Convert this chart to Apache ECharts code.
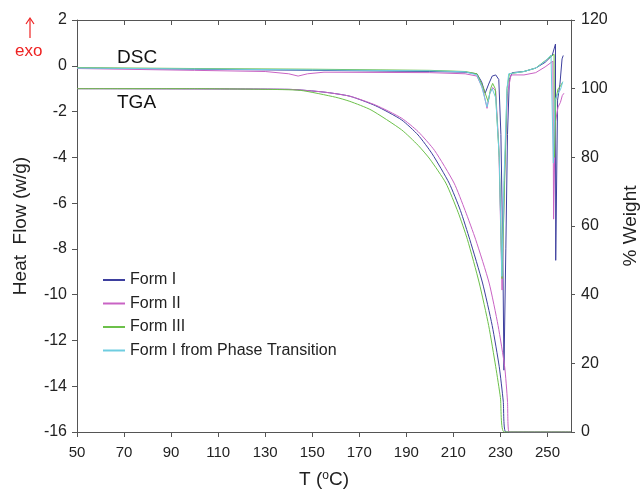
<!DOCTYPE html>
<html>
<head>
<meta charset="utf-8">
<script src="https://cdn.jsdelivr.net/npm/echarts@6/dist/echarts.min.js"></script>
<style>
    html, body { margin: 0; padding: 0; background: #fff; }
    #chart1 { width: 641px; height: 496px; }
</style>
</head>
<body>
<div id="chart1"></div>
<script>
// 图例名称
var formNames = ['Form I', 'Form II', 'Form III', 'Form I from Phase Transition'];
var formColors = ['#3d3f9e', '#c963c4', '#6cc04a', '#6fcde0'];

// DSC 曲线 [T, 热流 W/g]
var dscForm1 = [[50, -0.1], [100, -0.15], [150, -0.2], [200, -0.25], [215, -0.28], [220, -0.35], [222, -0.7],
    [223.5, -1.2], [225, -0.8], [226.5, -0.45], [228, -0.4], [229.3, -0.6], [230.2, -3], [231, -8], [231.5, -13.3],
    [232.3, -8], [233, -3], [233.8, -0.6], [235, -0.3], [240, -0.25], [245, -0.1], [249, 0.15], [252, 0.45],
    [253.4, 0.95], [253.5, -8.5], [254.3, -1.5], [255.3, -0.8], [256.2, 0.3], [256.7, 0.45]];
var dscForm2 = [[50, -0.12], [100, -0.2], [130, -0.25], [140, -0.35], [144, -0.45], [148, -0.35], [155, -0.28],
    [200, -0.3], [215, -0.35], [220, -0.45], [222.5, -1.0], [224.3, -1.86], [225.5, -1.2], [226.7, -0.95],
    [228, -1.1], [229.3, -3.5], [230.7, -9.8], [231.7, -5], [233, -1.2], [234.5, -0.4], [240, -0.4], [245, -0.3],
    [249, -0.05], [252.3, 0.2], [252.6, -6.7], [253.3, -2.5], [254.5, -1.8], [255.5, -1.6], [256.3, -1.3], [257, -1.2]];
var dscForm3 = [[50, -0.08], [100, -0.12], [150, -0.15], [200, -0.2], [215, -0.25], [220, -0.35], [222.5, -0.9],
    [224.8, -1.57], [225.8, -1.0], [226.7, -0.77], [227.8, -1.0], [229.5, -4], [230.7, -9.3], [231.8, -5],
    [232.8, -1], [233.8, -0.35], [240, -0.25], [245, -0.1], [250, 0.3], [252.8, 0.5], [253, -4.0], [253.5, -1.5],
    [254.5, -1.0], [255.5, -0.9], [256.5, -0.7]];
var dscForm4 = [[50, -0.1], [100, -0.14], [150, -0.18], [200, -0.22], [215, -0.26], [220, -0.4], [222, -0.9],
    [224.3, -1.8], [225.5, -1.2], [226.5, -1.0], [228, -1.4], [229.5, -4], [230.6, -9.2], [231.5, -5],
    [232.8, -1], [233.5, -0.35], [240, -0.25], [245, -0.1], [249, 0.2], [251.5, 0.47], [252.3, 0.4],
    [252.5, -4.25], [253.2, -1.5], [254.5, -1.2], [255.5, -1.05], [256.5, -0.7]];

// TGA 曲线 [T, 重量 %]
var tgaForm1 = [[50, 100], [140, 99.8], [155, 99], [166, 97.8], [177, 95], [188, 90.9], [195, 86.5], [201, 81],
    [208.2, 72.5], [213, 64.5], [217, 56], [222.4, 43.4], [226.5, 31], [229.5, 19], [231.2, 9], [232.3, 0], [260, 0]];
var tgaForm2 = [[50, 100], [140, 99.8], [155, 99], [166, 97.8], [177, 95.2], [188, 91.4], [195, 87.5], [202, 82],
    [210.3, 72.5], [215, 64.5], [219.5, 56], [225.2, 43.4], [229, 31], [231.8, 19], [233, 9], [233.7, 0], [260, 0]];
var tgaForm3 = [[50, 100], [100, 100], [130, 99.8], [145, 99.5], [160, 97.5], [166, 96.3], [175, 93.8], [188, 88],
    [195, 83.5], [200, 79.5], [206.8, 72.5], [212, 64], [216, 56], [221, 43.4], [225, 31], [228, 19], [230, 10],
    [231.6, 0], [260, 0]];

var dscList = [dscForm1, dscForm2, dscForm3, dscForm4];
var tgaList = [tgaForm1, tgaForm2, tgaForm3];

(function () {
    var myChart1 = echarts.init(document.getElementById('chart1'));
    var series = [];
    for (var i = 0; i < dscList.length; i++) {
        series.push({
            name: formNames[i], type: 'line', xAxisIndex: 0, yAxisIndex: 0,
            data: dscList[i], symbol: 'none', color: formColors[i],
            lineStyle: { width: 1, color: formColors[i] }
        });
    }
    for (var j = 0; j < tgaList.length; j++) {
        series.push({
            name: formNames[j], type: 'line', xAxisIndex: 0, yAxisIndex: 1,
            data: tgaList[j], symbol: 'none', color: formColors[j],
            smooth: 0.2,
            lineStyle: { width: 1, color: formColors[j] }
        });
    }
    var option = {
        animation: false,
        grid: { left: 77, right: 70, top: 20, bottom: 64, outerBoundsMode: 'none' },
        legend: {
            data: formNames, orient: 'vertical', left: 98, top: 267,
            icon: 'rect', itemWidth: 22, itemHeight: 2, itemGap: 7.5,
            textStyle: { fontFamily: 'Liberation Sans', fontSize: 16, color: '#222' }
        },
        xAxis: [
            {
                type: 'value', min: 50, max: 260, interval: 20,
                name: 'T ({sup|o}C)', nameLocation: 'middle', nameGap: 38,
                nameTextStyle: { fontFamily: 'Liberation Sans', fontSize: 19, color: '#222',
                    rich: { sup: { fontFamily: 'Liberation Sans', fontSize: 12, color: '#222', verticalAlign: 'top', padding: [0, 0, 8, 0] } } },
                axisLine: { onZero: false, lineStyle: { color: '#555' } },
                axisTick: { length: 5, lineStyle: { color: '#555' } },
                axisLabel: { fontFamily: 'Liberation Sans', fontSize: 15, color: '#222', margin: 13 },
                splitLine: { show: false }
            },
            {
                type: 'value', min: 50, max: 260, interval: 20, position: 'top',
                axisLine: { show: true, onZero: false, lineStyle: { color: '#555' } },
                axisTick: { show: true, inside: true, length: 5, lineStyle: { color: '#555' } },
                axisLabel: { show: false },
                splitLine: { show: false }
            }
        ],
        yAxis: [
            {
                type: 'value', min: -16, max: 2, interval: 2,
                name: 'Heat  Flow (w/g)', nameLocation: 'middle', nameGap: 47,
                nameTextStyle: { fontFamily: 'Liberation Sans', fontSize: 19, color: '#222' },
                axisLine: { show: true, onZero: false, lineStyle: { color: '#555' } },
                axisTick: { show: true, length: 5, lineStyle: { color: '#555' } },
                axisLabel: { fontFamily: 'Liberation Sans', fontSize: 16, color: '#222', margin: 10 },
                splitLine: { show: false }
            },
            {
                type: 'value', min: 0, max: 120, interval: 20, position: 'right',
                name: '% Weight', nameLocation: 'middle', nameGap: 50,
                nameTextStyle: { fontFamily: 'Liberation Sans', fontSize: 19, color: '#222' },
                axisLine: { show: true, onZero: false, lineStyle: { color: '#555' } },
                axisTick: { show: true, length: 4, lineStyle: { color: '#555' } },
                axisLabel: { fontFamily: 'Liberation Sans', fontSize: 16, color: '#222', margin: 10 },
                splitLine: { show: false }
            }
        ],
        graphic: [
            { type: 'text', left: 117, top: 48, style: { text: 'DSC', fontFamily: 'Liberation Sans', fontSize: 19, fill: '#111' } },
            { type: 'text', left: 117, top: 93, style: { text: 'TGA', fontFamily: 'Liberation Sans', fontSize: 19, fill: '#111' } },
            { type: 'text', left: 15, top: 43, style: { text: 'exo', fontFamily: 'Liberation Sans', fontSize: 17, fill: '#ee2222' } },
            { type: 'line', shape: { x1: 30, y1: 38, x2: 30, y2: 19 }, style: { stroke: '#ee2222', lineWidth: 1.2 } },
            { type: 'polyline', shape: { points: [[26, 24], [30, 18], [34, 24]] }, style: { stroke: '#ee2222', lineWidth: 1.2, fill: null } }
        ],
        series: series
    };
    myChart1.setOption(option);
})();
</script>
</body>
</html>
